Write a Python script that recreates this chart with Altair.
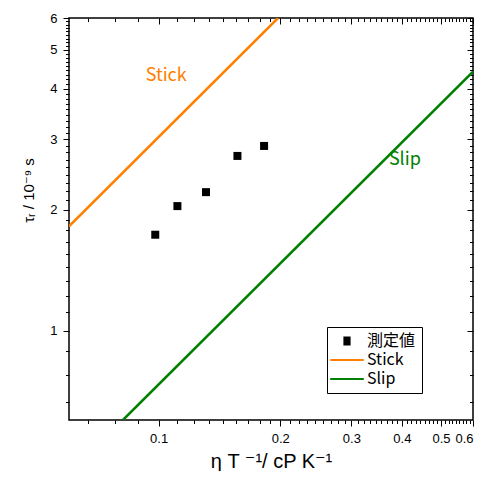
import altair as alt
import pandas as pd

# measured points (η T^-1 in cP K^-1, τr in 1e-9 s)
eta_T = [0.0981, 0.1113, 0.1310, 0.1567, 0.1824]
tau_r = [1.734, 2.043, 2.213, 2.723, 2.883]

# model lines (read endpoints)
stick_x = [0.06, 0.1975]
stick_y = [1.82, 6.0]
slip_x = [0.0816, 0.6]
slip_y = [0.6, 4.41]

series_names = ["測定値", "Stick", "Slip"]
series_colors = ["#000000", "#FF8000", "#008000"]

# in-plot labels
label_text = ["Stick", "Slip"]
label_x = [0.1044, 0.4069]
label_y = [4.305, 2.657]

# ticks
x_major = [0.1, 0.2, 0.3, 0.4, 0.5, 0.6]
x_minor = [0.0667, 0.0778, 0.0889] + [round(m + j * 0.1 / 9, 5) for m in (0.1, 0.2, 0.3, 0.4, 0.5) for j in range(1, 9)]
y_major = [1, 2, 3, 4, 5, 6]
y_minor = [0.667, 0.778, 0.889] + [round(m + j / 9, 5) for m in range(1, 6) for j in range(1, 9)]

df_pts = pd.DataFrame({"x": eta_T, "y": tau_r})
df_lines = pd.DataFrame({
    "x": stick_x + slip_x,
    "y": stick_y + slip_y,
    "series": ["Stick"] * len(stick_x) + ["Slip"] * len(slip_x),
})
df_text = pd.DataFrame({"x": label_x, "y": label_y, "label": label_text})
df_leg = pd.DataFrame({"series": series_names, "x": [eta_T[0]] * 3, "y": [tau_r[0]] * 3})

xs = alt.Scale(type="log", domain=[0.06, 0.6], nice=False)
ys = alt.Scale(type="log", domain=[0.6, 6], nice=False)
cs = alt.Scale(domain=series_names, range=series_colors)

# legend symbols: solid square (filled by thick strokes) and a horizontal line
SQUARE = "M-0.9,-0.9H0.9M-0.9,-0.45H0.9M-0.9,0H0.9M-0.9,0.45H0.9M-0.9,0.9H0.9"
LINE = "M-4.2,0H4.2"
ss = alt.Scale(domain=series_names, range=[SQUARE, LINE, LINE])

LAB_FONT = "Liberation Sans"
TITLE_FONT = "Liberation Sans, DejaVu Sans"
JP_FONT = "Noto Sans CJK JP"

common = dict(domain=False, grid=False, ticks=True, tickColor="black", tickWidth=1,
              labelColor="black", labelFont=LAB_FONT, labelFontSize=13)

ax_bottom_major = alt.Axis(orient="bottom", values=x_major, format=".1f", tickSize=6,
                           labelPadding=6, labelOverlap=False, labelFlush=True, labelBound=False,
                           title="η  T ⁻¹/ cP K⁻¹", titleFont=TITLE_FONT, titleFontSize=20,
                           titleFontWeight="normal", titleColor="black",
                           titleX=202, titleY=47, titleAlign="center", titleBaseline="alphabetic",
                           **common)
ax_left_major = alt.Axis(orient="left", values=y_major, format="d", tickSize=6,
                         labelPadding=6, labelOverlap=False, labelFlush=False, labelBound=False,
                         title="τᵣ / 10⁻⁹ s", titleFont=TITLE_FONT, titleFontSize=15,
                         titleFontWeight="normal", titleColor="black",
                         titleX=-36, titleY=172, titleAngle=270, titleAlign="center",
                         titleBaseline="alphabetic",
                         **common)
ax_bottom_minor = alt.Axis(orient="bottom", values=x_minor, tickSize=3.5, labels=False, title=None, **common)
ax_left_minor = alt.Axis(orient="left", values=y_minor, tickSize=3.5, labels=False, title=None, **common)
ax_top_major = alt.Axis(orient="top", values=x_major, tickSize=6, offset=-6, labels=False, title=None, **common)
ax_top_minor = alt.Axis(orient="top", values=x_minor, tickSize=3.5, offset=-3.5, labels=False, title=None, **common)
ax_right_major = alt.Axis(orient="right", values=y_major, tickSize=6, offset=-6, labels=False, title=None, **common)
ax_right_minor = alt.Axis(orient="right", values=y_minor, tickSize=3.5, offset=-3.5, labels=False, title=None, **common)

legend = alt.Legend(
    title=None, orient="none", legendX=258, legendY=309, direction="vertical",
    strokeColor="black", fillColor="white", padding=6, cornerRadius=0,
    symbolSize=64, symbolStrokeWidth=2, symbolOpacity=1, symbolOffset=6,
    labelFont=JP_FONT, labelFontSize=16, labelColor="black", labelOffset=12, rowPadding=3,
)

stick_line = alt.Chart(df_lines).transform_filter(alt.datum.series == "Stick").mark_line(
    strokeWidth=2.5, clip=True, color="#FF8000").encode(
    x=alt.X("x:Q", scale=xs, axis=ax_bottom_minor),
    y=alt.Y("y:Q", scale=ys, axis=ax_left_minor),
)
slip_line = alt.Chart(df_lines).transform_filter(alt.datum.series == "Slip").mark_line(
    strokeWidth=2.5, clip=True, color="#008000").encode(
    x=alt.X("x:Q", scale=xs, axis=None),
    y=alt.Y("y:Q", scale=ys, axis=None),
)

pts = alt.Chart(df_pts).mark_point(shape="square", filled=True, size=64, color="black", opacity=1).encode(
    x=alt.X("x:Q", scale=xs, axis=ax_bottom_major),
    y=alt.Y("y:Q", scale=ys, axis=ax_left_major),
)

leg = alt.Chart(df_leg).mark_point(filled=False, opacity=0, strokeWidth=2, size=64).encode(
    x=alt.X("x:Q", scale=xs, axis=ax_top_major),
    y=alt.Y("y:Q", scale=ys, axis=ax_right_major),
    color=alt.Color("series:N", scale=cs, legend=legend),
    shape=alt.Shape("series:N", scale=ss, legend=legend),
)
top_minor = alt.Chart(df_pts).mark_point(opacity=0).encode(
    x=alt.X("x:Q", scale=xs, axis=ax_top_minor),
    y=alt.Y("y:Q", scale=ys, axis=ax_right_minor),
)

txt_stick = alt.Chart(df_text).transform_filter(alt.datum.label == "Stick").mark_text(
    font=JP_FONT, fontSize=18, color="#FF8000").encode(
    x=alt.X("x:Q", scale=xs, axis=None), y=alt.Y("y:Q", scale=ys, axis=None), text="label:N")
txt_slip = alt.Chart(df_text).transform_filter(alt.datum.label == "Slip").mark_text(
    font=JP_FONT, fontSize=18, color="#008000").encode(
    x=alt.X("x:Q", scale=xs, axis=None), y=alt.Y("y:Q", scale=ys, axis=None), text="label:N")

chart = alt.layer(stick_line, slip_line, pts, leg, top_minor, txt_stick, txt_slip).resolve_axis(
    x="independent", y="independent"
).properties(
    width=404, height=402,
    autosize=alt.AutoSizeParams(type="none"),
    padding={"left": 61, "top": 10, "right": 2, "bottom": 51},
    background="white",
).configure_view(stroke="black", strokeWidth=1.5).configure_legend(
    labelFontSize=16, labelFont=JP_FONT, labelColor="black", labelLimit=200
)

chart.save("out.html", embed_options={"renderer": "svg", "actions": False})
